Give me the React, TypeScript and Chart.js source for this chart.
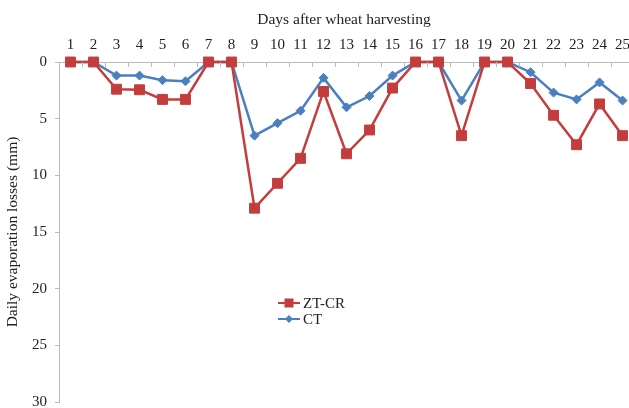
import React, { useEffect, useRef } from "react";
import { Chart, registerables } from "chart.js";

Chart.register(...registerables);

const days = [1, 2, 3, 4, 5, 6, 7, 8, 9, 10, 11, 12, 13, 14, 15, 16, 17, 18, 19, 20, 21, 22, 23, 24, 25];
const ztcr = [0, 0, 2.4, 2.45, 3.3, 3.3, 0, 0, 12.9, 10.7, 8.5, 2.6, 8.1, 6.0, 2.3, 0, 0, 6.5, 0, 0, 1.9, 4.7, 7.3, 3.7, 6.5];
const ct = [0, 0, 1.2, 1.2, 1.6, 1.7, 0, 0, 6.5, 5.4, 4.3, 1.4, 4.0, 3.0, 1.2, 0, 0, 3.4, 0, 0, 0.9, 2.7, 3.3, 1.8, 3.4];
const yTicks = [0, 5, 10, 15, 20, 25, 30];

const RED = "#c43d3d";
const BLUE = "#4a7fc0";
const AXIS = "#b9b9b9";
const FONT = "'Liberation Serif', 'DejaVu Serif', serif";

const boundaryTicks = {
  id: "boundaryTicks",
  afterDatasetsDraw(chart: any) {
    const x = chart.scales.x;
    const area = chart.chartArea;
    const ctx = chart.ctx;
    ctx.save();
    ctx.strokeStyle = AXIS;
    ctx.lineWidth = 1;
    for (let k = 0; k <= days.length; k++) {
      const px = Math.round(x.getPixelForValue(days[0] - 0.5 + k)) + 0.5;
      if (px > area.right + 1) continue;
      ctx.beginPath();
      ctx.moveTo(px, area.top);
      ctx.lineTo(px, area.top + 5);
      ctx.stroke();
    }
    ctx.restore();
  },
};

const customLegend = {
  id: "customLegend",
  afterDraw(chart: any) {
    const ctx = chart.ctx;
    const area = chart.chartArea;
    const x0 = area.left + 219;
    const y0 = area.top + 241;
    ctx.save();
    chart.data.datasets.forEach((ds: any, i: number) => {
      const y = y0 + i * 16;
      ctx.strokeStyle = ds.borderColor;
      ctx.lineWidth = 2;
      ctx.beginPath();
      ctx.moveTo(x0, y);
      ctx.lineTo(x0 + 22, y);
      ctx.stroke();
      ctx.fillStyle = ds.pointBackgroundColor;
      if (ds.pointStyle === "rect") {
        ctx.fillRect(x0 + 11 - 4.5, y - 4.5, 9, 9);
      } else {
        ctx.beginPath();
        ctx.moveTo(x0 + 11, y - 4);
        ctx.lineTo(x0 + 15, y);
        ctx.lineTo(x0 + 11, y + 4);
        ctx.lineTo(x0 + 7, y);
        ctx.closePath();
        ctx.fill();
      }
      ctx.fillStyle = "#222";
      ctx.font = `15px ${FONT}`;
      ctx.textBaseline = "middle";
      ctx.textAlign = "left";
      ctx.fillText(ds.label, x0 + 25, y + 1);
    });
    ctx.restore();
  },
};

export default function App() {
  const ref = useRef<HTMLCanvasElement | null>(null);
  useEffect(() => {
    document.body.style.margin = "0";
    const chart = new Chart(ref.current as HTMLCanvasElement, {
      type: "line",
      data: {
        datasets: [
          {
            label: "ZT-CR",
            data: days.map((d, i) => ({ x: d, y: ztcr[i] })),
            borderColor: RED,
            backgroundColor: RED,
            pointBackgroundColor: RED,
            pointBorderColor: RED,
            pointStyle: "rect",
            pointRadius: 7,
            pointBorderWidth: 1,
            borderWidth: 2.5,
            tension: 0,
            clip: false,
          },
          {
            label: "CT",
            data: days.map((d, i) => ({ x: d, y: ct[i] })),
            borderColor: BLUE,
            backgroundColor: BLUE,
            pointBackgroundColor: BLUE,
            pointBorderColor: BLUE,
            pointStyle: "rectRot",
            pointRadius: 4.5,
            pointBorderWidth: 1,
            borderWidth: 2.5,
            tension: 0,
            clip: false,
          },
        ],
      },
      options: {
        animation: false,
        responsive: false,
        layout: { autoPadding: false, padding: { top: 0, right: 0, bottom: 6, left: 0 } },
        plugins: { legend: { display: false }, tooltip: { enabled: false } },
        scales: {
          x: {
            type: "linear",
            position: "top",
            min: 0.5,
            max: 25.28,
            afterBuildTicks: (scale: any) => {
              scale.ticks = days.map((d) => ({ value: d }));
            },
            afterFit: (scale: any) => {
              scale.height = 62;
              scale.paddingLeft = 0;
              scale.paddingRight = 0;
            },
            ticks: {
              color: "#222",
              font: { family: FONT, size: 15 },
              padding: 8,
              maxRotation: 0,
              autoSkip: false,
            },
            grid: { display: false, drawTicks: false },
            border: { display: true, color: AXIS, width: 1 },
            title: {
              display: true,
              text: "Days after wheat harvesting",
              color: "#222",
              font: { family: FONT, size: 15.5 },
              padding: { top: 11, bottom: 0 },
            },
          },
          y: {
            type: "linear",
            reverse: true,
            min: 0,
            max: 30,
            afterBuildTicks: (scale: any) => {
              scale.ticks = yTicks.map((v) => ({ value: v }));
            },
            afterFit: (scale: any) => {
              scale.width = 59;
              scale.paddingTop = 0;
              scale.paddingBottom = 0;
            },
            ticks: {
              color: "#222",
              font: { family: FONT, size: 15 },
              padding: 8,
            },
            grid: { drawOnChartArea: false, drawTicks: true, tickLength: 4, color: AXIS },
            border: { display: true, color: AXIS, width: 1 },
            title: {
              display: true,
              text: "Daily evaporation losses (mm)",
              color: "#222",
              font: { family: FONT, size: 15.5 },
              padding: { top: 4, bottom: 0 },
            },
          },
        },
      },
      plugins: [boundaryTicks, customLegend],
    } as any);
    return () => chart.destroy();
  }, []);
  return (
    <div style={{ position: "fixed", left: 0, top: 0, width: 629, height: 408 }}>
      <canvas ref={ref} width={629} height={408} style={{ display: "block" }} />
    </div>
  );
}
